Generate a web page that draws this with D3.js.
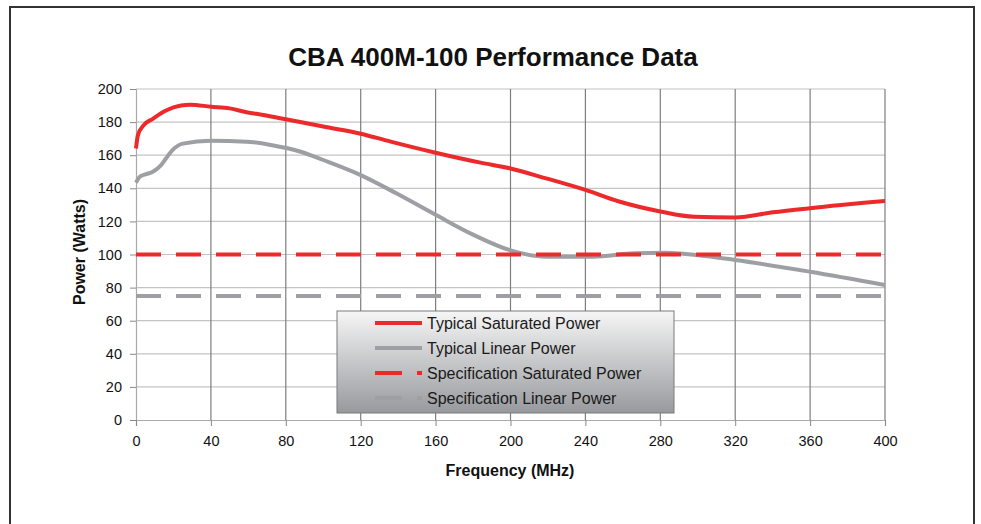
<!DOCTYPE html>
<html><head><meta charset="utf-8">
<script src="https://cdn.jsdelivr.net/npm/d3@7"></script>
<style>body{margin:0;background:#fff}svg{display:block}text{font-family:"Liberation Sans",Arial,sans-serif}</style>
</head><body><svg id="c" width="981" height="524"></svg>
<script>
const title = "CBA 400M-100 Performance Data";
const xTicks = [0,40,80,120,160,200,240,280,320,360,400];
const yTicks = [0,20,40,60,80,100,120,140,160,180,200];
const satFreq = [0,1,4,9,16,24,29,40,50,59,68,80,100,120,136,160,184,200,219,240,258,280,298,320,340,360,400];
const satPow  = [164,172,178,182,187,190,190.5,189.3,188.3,186,184.3,181.7,177.3,173,168.2,161.5,155.5,152,146,139,132,126,122.8,122.4,125.5,128,132.3];
const linFreq = [0,2,5,9,13,16,19,25,40,59,72,88,100,120,139,160,180,200,219,244,266,283,299,320,360,400];
const linPow  = [143.4,147,148.4,150,153.5,158,162.5,167,168.8,168.2,166.2,162.1,157.1,148,137,124,112,102.5,98.7,98.7,100.7,101,99.7,96.7,89.6,81.6];
const specFreq = [0,400];
const specSat = [100,100];
const specLin = [75,75];
const legendNames = ["Typical Saturated Power","Typical Linear Power","Specification Saturated Power","Specification Linear Power"];

const RED="#ec2a2c", GRAY="#9d9fa3";
const svg = d3.select("#c");
const L=136,R=885,T=89,B=420;
const x = d3.scaleLinear().domain([0,400]).range([L,R]);
const y = d3.scaleLinear().domain([0,200]).range([B,T]);

svg.append("rect").attr("x",10).attr("y",7).attr("width",964).attr("height",540)
  .attr("fill","none").attr("stroke","#333").attr("stroke-width",2);

svg.append("text").attr("x",493).attr("y",66).attr("text-anchor","middle")
  .attr("font-size",26).attr("font-weight","bold").attr("fill","#111").text(title);

svg.append("g").selectAll("line").data(yTicks.filter(d=>d>0)).join("line")
  .attr("x1",L).attr("x2",R).attr("y1",d=>y(d)).attr("y2",d=>y(d))
  .attr("stroke","#c4c4c4").attr("stroke-width",1.2);
svg.append("g").selectAll("line").data(xTicks.filter(d=>d>0)).join("line")
  .attr("x1",d=>x(d)).attr("x2",d=>x(d)).attr("y1",T).attr("y2",B)
  .attr("stroke","#7e7e7e").attr("stroke-width",1.2);

const ya = svg.append("g").attr("transform",`translate(${L},0)`)
  .call(d3.axisLeft(y).tickValues(yTicks).tickSize(6).tickPadding(8));
const xa = svg.append("g").attr("transform",`translate(0,${B})`)
  .call(d3.axisBottom(x).tickValues(xTicks).tickSize(6).tickPadding(10));
[ya,xa].forEach(a=>{
  a.select(".domain").attr("stroke","#aaa").attr("stroke-width",1.2);
  a.selectAll(".tick line").attr("stroke","#888");
  a.selectAll("text").attr("font-size",14.5).attr("fill","#111")
   .style("font-family","'Liberation Sans',Arial,sans-serif");
});

svg.append("text").attr("transform","translate(85,252) rotate(-90)").attr("text-anchor","middle")
  .attr("font-size",16).attr("font-weight","bold").attr("fill","#111").text("Power (Watts)");
svg.append("text").attr("x",510).attr("y",476).attr("text-anchor","middle")
  .attr("font-size",16).attr("font-weight","bold").attr("fill","#111").text("Frequency (MHz)");

const line = d3.line().x(d=>x(d[0])).y(d=>y(d[1]));
const sline = d3.line().x(d=>x(d[0])).y(d=>y(d[1])).curve(d3.curveMonotoneX);
const g = svg.append("g");
g.append("path").datum(specFreq.map((f,i)=>[f,specLin[i]])).attr("d",line)
  .attr("fill","none").attr("stroke",GRAY).attr("stroke-width",4).attr("stroke-dasharray","25,15");
g.append("path").datum(linFreq.map((f,i)=>[f,linPow[i]])).attr("d",sline)
  .attr("fill","none").attr("stroke",GRAY).attr("stroke-width",4).attr("stroke-linejoin","round");
g.append("path").datum(specFreq.map((f,i)=>[f,specSat[i]])).attr("d",line)
  .attr("fill","none").attr("stroke",RED).attr("stroke-width",4).attr("stroke-dasharray","25,15");
g.append("path").datum(satFreq.map((f,i)=>[f,satPow[i]])).attr("d",sline)
  .attr("fill","none").attr("stroke",RED).attr("stroke-width",4).attr("stroke-linejoin","round");

const defs = svg.append("defs");
const grad = defs.append("linearGradient").attr("id","lg").attr("x1",0).attr("y1",0).attr("x2",0).attr("y2",1);
grad.append("stop").attr("offset","0%").attr("stop-color","#f6f6f6");
grad.append("stop").attr("offset","100%").attr("stop-color","#97999d");
const lg = svg.append("g");
lg.append("rect").attr("x",337).attr("y",311).attr("width",337).attr("height",102)
  .attr("fill","url(#lg)").attr("stroke","#7a7a7a").attr("stroke-width",1);
const rows=[323,348,373,398];
const cols=[RED,GRAY,RED,GRAY];
legendNames.forEach((n,i)=>{
  const yy=rows[i];
  if(i<2){
    lg.append("line").attr("x1",375).attr("x2",422).attr("y1",yy).attr("y2",yy)
      .attr("stroke",cols[i]).attr("stroke-width",4);
  } else {
    lg.append("line").attr("x1",375).attr("x2",402).attr("y1",yy).attr("y2",yy)
      .attr("stroke",cols[i]).attr("stroke-width",4);
    lg.append("line").attr("x1",417).attr("x2",422).attr("y1",yy).attr("y2",yy)
      .attr("stroke",cols[i]).attr("stroke-width",4);
  }
  lg.append("text").attr("x",427).attr("y",yy+5.5).attr("font-size",16).attr("fill","#1a1a1a").text(n);
});
</script></body></html>
